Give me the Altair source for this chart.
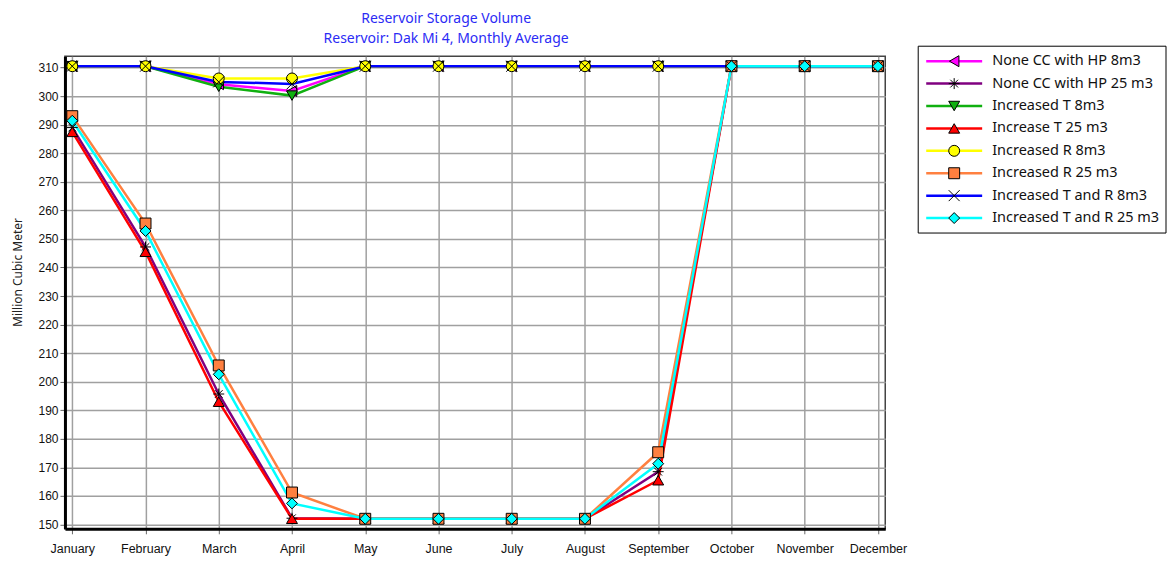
import altair as alt
import pandas as pd

months = ["January", "February", "March", "April", "May", "June", "July",
          "August", "September", "October", "November", "December"]

series = ["None CC with HP 8m3", "None CC with HP 25 m3", "Increased T 8m3",
          "Increase T 25 m3", "Increased R 8m3", "Increased R 25 m3",
          "Increased T and R 8m3", "Increased T and R 25 m3"]

colors = ["#ff00ff", "#800080", "#10b010", "#ff0000", "#ffff00", "#ff8040",
          "#0000ff", "#00ffff"]

asterisk = "M-1,0L1,0M0,-1L0,1M-0.7,-0.7L0.7,0.7M-0.7,0.7L0.7,-0.7"
xcross = "M-1,-1L1,1M-1,1L1,-1"
shapes = ["triangle-left", asterisk, "triangle-down", "triangle-up", "circle",
          "square", xcross, "diamond"]

none_cc_8 = [310.5, 310.5, 304.2, 301.8, 310.5, 310.5, 310.5, 310.5, 310.5, 310.5, 310.5, 310.5]
none_cc_25 = [289.0, 247.2, 195.7, 152.2, 152.0, 152.0, 152.0, 152.0, 168.5, 310.5, 310.5, 310.5]
inc_t_8 = [310.5, 310.5, 303.3, 300.2, 310.5, 310.5, 310.5, 310.5, 310.5, 310.5, 310.5, 310.5]
inc_t_25 = [287.5, 245.5, 193.0, 152.0, 152.0, 152.0, 152.0, 152.0, 165.5, 310.5, 310.5, 310.5]
inc_r_8 = [310.5, 310.5, 306.2, 306.2, 310.5, 310.5, 310.5, 310.5, 310.5, 310.5, 310.5, 310.5]
inc_r_25 = [293.0, 255.4, 205.7, 161.2, 152.0, 152.0, 152.0, 152.0, 175.3, 310.5, 310.5, 310.5]
inc_tr_8 = [310.5, 310.5, 305.0, 304.3, 310.5, 310.5, 310.5, 310.5, 310.5, 310.5, 310.5, 310.5]
inc_tr_25 = [291.4, 252.8, 202.6, 157.4, 152.0, 152.0, 152.0, 152.0, 171.3, 310.5, 310.5, 310.5]

all_values = [none_cc_8, none_cc_25, inc_t_8, inc_t_25, inc_r_8, inc_r_25, inc_tr_8, inc_tr_25]
y_ticks = list(range(150, 311, 10))

rows = []
for s, vals in zip(series, all_values):
    for m, v in zip(months, vals):
        rows.append({"series": s, "month": m, "value": v})
df = pd.DataFrame(rows)
legend_df = pd.DataFrame({"series": series})
frame_df = pd.DataFrame({"frame": [0]})

color_scale = alt.Scale(domain=series, range=colors)
shape_scale = alt.Scale(domain=series, range=shapes)

x_enc = alt.X(
    "month:O", sort=months,
    scale=alt.Scale(type="point", padding=0.1),
    axis=alt.Axis(title=None, labelAngle=0, grid=True, gridColor="#a0a0a0",
                  gridWidth=1.5, domainColor="black", domainWidth=3,
                  tickColor="#666666", tickSize=5, tickWidth=1,
                  labelFont="Liberation Sans", labelFontSize=12.5,
                  labelColor="#111111", labelPadding=9),
)
y_enc = alt.Y(
    "value:Q",
    scale=alt.Scale(domain=[148.5, 314], nice=False, zero=False),
    axis=alt.Axis(title="Million Cubic Meter", values=y_ticks, grid=True,
                  gridColor="#a0a0a0", gridWidth=1.5, domainColor="black",
                  domainWidth=3, tickColor="#666666", tickSize=5, tickWidth=1,
                  labelFont="Liberation Sans", labelFontSize=12,
                  labelColor="#111111", labelPadding=2,
                  titleFont="Noto Sans", titleFontSize=12,
                  titleFontWeight="normal", titleColor="#222222",
                  titlePadding=13.5, titleY=216),
)

lines = alt.Chart(df).mark_line(strokeWidth=2.5).encode(
    x=x_enc, y=y_enc,
    color=alt.Color("series:N", scale=color_scale, legend=None),
)
points = alt.Chart(df).mark_point(filled=True, opacity=1, size=120,
                                  stroke="black", strokeWidth=1).encode(
    x=x_enc, y=y_enc,
    color=alt.Color("series:N", scale=color_scale, legend=None),
    shape=alt.Shape("series:N", scale=shape_scale, legend=None),
)

main = alt.layer(lines, points).properties(
    width=821, height=473,
    title=alt.TitleParams(
        ["Reservoir Storage Volume", "Reservoir: Dak Mi 4,  Monthly Average"],
        font="Noto Sans", fontSize=14, fontWeight="normal", color="#2b2bf5",
        lineHeight=20, offset=10.5, dx=-29, anchor="middle"),
    view=alt.ViewBackground(stroke="#444444", strokeWidth=1.5),
)

ly = alt.Y("series:N", sort=series,
           scale=alt.Scale(type="point", padding=0, range=[5, 162]), axis=None)
lcolor = alt.Color("series:N", scale=color_scale, legend=None)
leg_frame = alt.Chart(frame_df).mark_rect(fill="white", stroke="black",
                                          strokeWidth=1).encode(
    x=alt.value(0), x2=alt.value(248), y=alt.value(-10), y2=alt.value(177))
leg_rule = alt.Chart(legend_df).mark_rule(strokeWidth=2.5).encode(
    y=ly, x=alt.value(8), x2=alt.value(64), color=lcolor)
leg_point = alt.Chart(legend_df).mark_point(filled=True, opacity=1, size=120,
                                            stroke="black", strokeWidth=1).encode(
    y=ly, x=alt.value(36), color=lcolor,
    shape=alt.Shape("series:N", scale=shape_scale, legend=None))
leg_text = alt.Chart(legend_df).mark_text(align="left", baseline="middle",
                                          font="Noto Sans", fontSize=14.5,
                                          color="#111111").encode(
    y=ly, x=alt.value(74), text="series:N")

legend = alt.layer(leg_frame, leg_rule, leg_point, leg_text).properties(
    width=248, height=177,
    view=alt.ViewBackground(stroke=None, strokeWidth=0),
)

chart = alt.hconcat(main, legend, spacing=9).resolve_scale(
    x="independent", y="independent"
).properties(
    padding={"left": 2, "top": 2, "right": 0, "bottom": 0},
).configure_view(stroke="#444444")

chart.save("out.html", embed_options={"renderer": "svg", "actions": False})
